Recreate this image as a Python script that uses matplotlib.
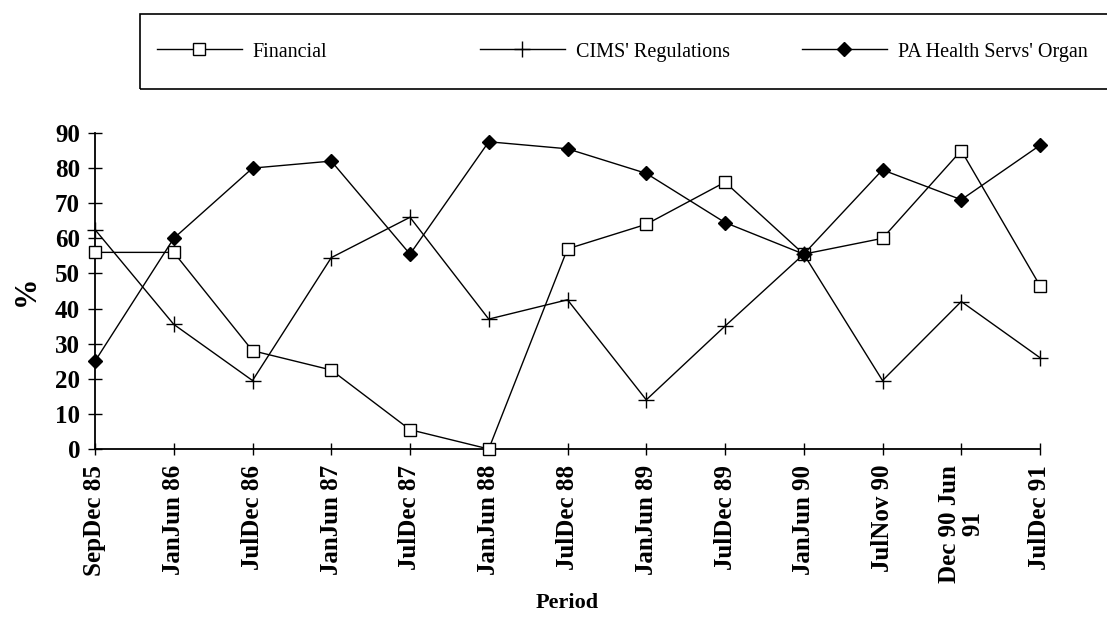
import matplotlib
matplotlib.use("Agg")
import matplotlib.pyplot as plt
from matplotlib.patches import Rectangle

periods = ["SepDec 85", "JanJun 86", "JulDec 86", "JanJun 87", "JulDec 87",
           "JanJun 88", "JulDec 88", "JanJun 89", "JulDec 89", "JanJun 90",
           "JulNov 90", "Dec 90 Jun\n91", "JulDec 91"]
financial = [56, 56, 28, 22.5, 5.5, 0, 57, 64, 76, 55.5, 60, 85, 46.5]
cims = [62.5, 35.5, 19.5, 54.5, 66, 37, 42.5, 14, 35, 55.5, 19.5, 42, 26]
pa_health = [25, 60, 80, 82, 55.5, 87.5, 85.5, 78.5, 64.5, 55.5, 79.5, 71, 86.5]
yticks = list(range(0, 91, 10))
series_names = ["Financial", "CIMS' Regulations", "PA Health Servs' Organ"]

plt.rcParams['font.family'] = ['Liberation Serif', 'DejaVu Serif']

fig = plt.figure(figsize=(11.07, 6.18), dpi=100)
ax = fig.add_axes([95/1107, 1-449/618, (1040-95)/1107, (449-133)/618])

x = list(range(len(periods)))
styles = [
    dict(marker='s', ms=8, mfc='white', mec='black', mew=1),
    dict(marker='+', ms=11, mew=1, mec='black'),
    dict(marker='D', ms=7, mfc='black', mec='black'),
]
handles = []
for vals, name, st in zip([financial, cims, pa_health], series_names, styles):
    h, = ax.plot(x, vals, color='black', lw=1, label=name, clip_on=False,
                 zorder=3, **st)
    handles.append(h)

ax.set_xlim(0, len(periods)-1)
ax.set_ylim(0, 90)
ax.set_yticks(yticks)
ax.set_xticks(x)
ax.set_xticklabels(periods, rotation=90, fontsize=18, fontweight='bold',
                   va='top', ha='center', multialignment='center',
                   linespacing=1.0)
ax.set_yticklabels([str(v) for v in yticks], fontsize=18, fontweight='bold')
for s in ['top', 'right']:
    ax.spines[s].set_visible(False)
for s in ['left', 'bottom']:
    ax.spines[s].set_linewidth(1.3)
ax.tick_params(axis='y', direction='inout', length=9.5, width=1, pad=6)
ax.tick_params(axis='x', direction='inout', length=8, width=1, pad=7.5)
ax.set_xlabel('Period', fontsize=16, fontweight='bold', labelpad=7)
ax.set_ylabel('%', fontsize=22, fontweight='bold', labelpad=10)

fig.patches.append(Rectangle((140/1107, 1-89/618), 1.0, 75/618,
                             transform=fig.transFigure, fill=False,
                             edgecolor='black', lw=1.2))
starts = [157, 480, 802]
for h, name, xs in zip(handles, series_names, starts):
    fig.legend([h], [name], loc='center left',
               bbox_to_anchor=(xs/1107, 1-52/618), frameon=False,
               fontsize=14.5, handlelength=4.2, handletextpad=0.55,
               borderpad=0, borderaxespad=0)

fig.savefig('out.png', dpi=100)
